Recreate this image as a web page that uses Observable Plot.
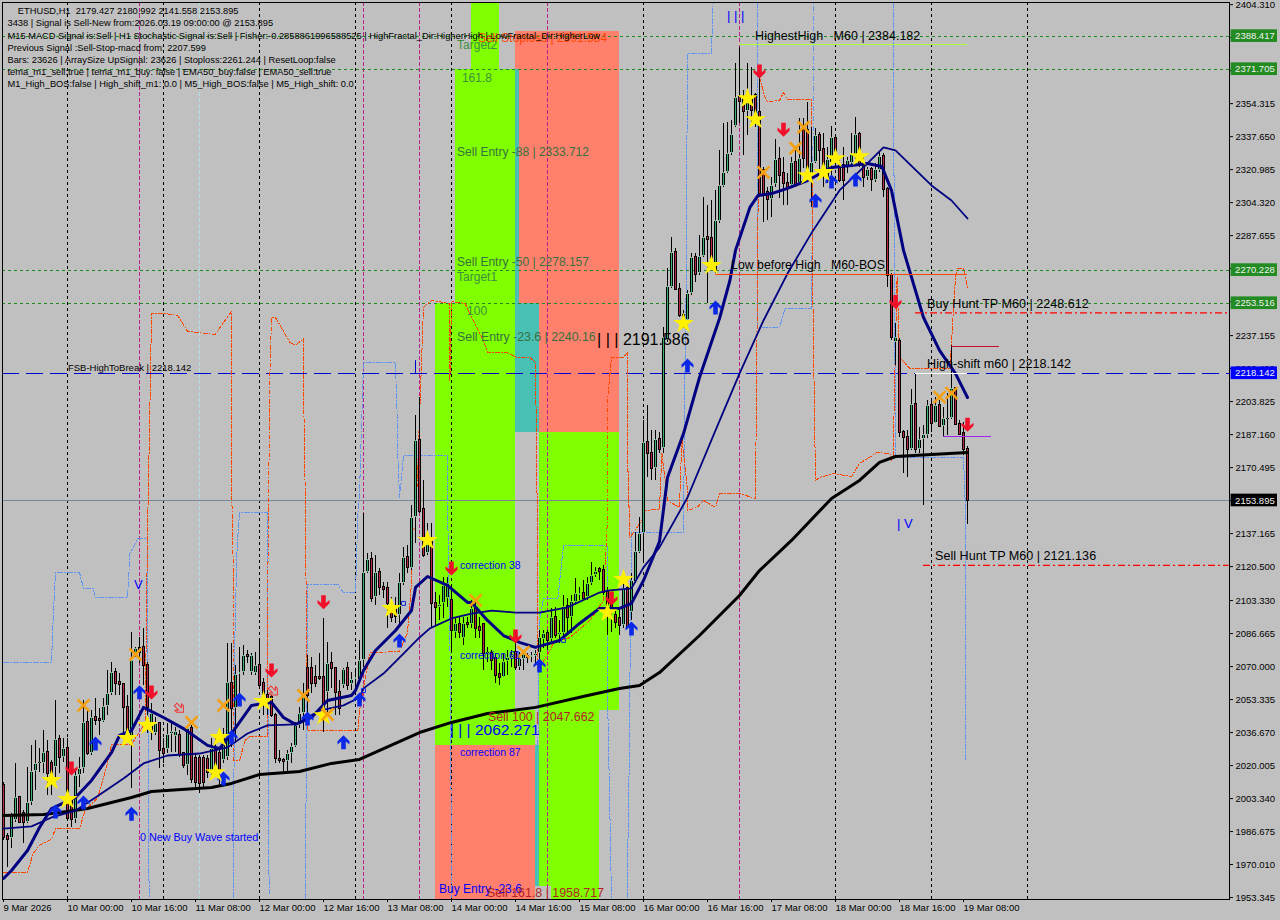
<!DOCTYPE html>
<html>
<head>
<meta charset="utf-8">
<script src="https://cdn.jsdelivr.net/npm/d3@7"></script>
<script src="https://cdn.jsdelivr.net/npm/@observablehq/plot@0.6"></script>
<style>
html,body{margin:0;padding:0;background:#c0c0c0;overflow:hidden}
svg{display:block}
</style>
</head>
<body>
<div id="chart"></div>
<script>
// candles: [open, high, low, close], one list per trading day
const mar09 = [[2010,2011.6,1982.2,1983.9],[1984.2,1985.6,1968.7,1982.9],[1983,1995.6,1978,1994.8],[1992.3,2020.9,1991.4,2003.7],[2003.7,2004,1990.9,1991.4],[1995.6,1997.3,1980.5,1991.4],[1991.4,2019.2,1990.6,2001.5],[2001.5,2030.2,1999.9,2017.2],[2017.2,2032.7,2007.4,2021.2],[2021.2,2028.5,2016.7,2021.6],[2021.2,2037.7,2015.9,2026.5],[2026.5,2032.7,2004.9,2015.9],[2020.9,2022.6,2004.9,2012.5],[2019.2,2052.9,2012.5,2033],[2033,2035.2,2015.9,2023.9],[2023.9,2033.5,2021.7,2028.5]];
const mar10 = [[2028.5,2033.5,1992.3,1993.1],[2002.4,2004,1988.9,1992.6],[1992.6,2017.5,1990.6,2015],[2015,2024.3,2009.1,2018.4],[2018.4,2052.9,2015.9,2041.6],[2041.6,2047.8,2025.1,2026],[2026,2047.8,2025.1,2044.5],[2044.5,2053.7,2040.3,2042.8],[2043.5,2048.7,2035.2,2042.8],[2042.5,2053.7,2041.9,2049.9],[2049.9,2068,2045.3,2056.3],[2056.3,2072.3,2055.4,2067.2],[2067.2,2068.9,2055.4,2061.6],[2062.2,2066.4,2055.4,2060.8],[2060.8,2061.3,2034.4,2049.2],[2049.2,2055.4,2032.7,2034.4],[2033.5,2087.4,2008.3,2073.1],[2075.6,2079.8,2074.8,2079],[2079,2084.9,2071.4,2077.3],[2079.8,2089.1,2060.5,2070.6],[2070.6,2072.3,2036,2049.5],[2036,2051.2,2032.7,2046.2],[2036,2044.5,2035.2,2041.1],[2041.1,2041.9,2018.4,2027.6]];
const mar11 = [[2028.1,2033.5,2020.9,2026.3],[2028.1,2041.1,2025.9,2035.7],[2035.7,2041.9,2026.8,2037.2],[2034.7,2039.4,2026.8,2037.2],[2035.2,2037.7,2024.3,2025.6],[2026,2026.8,2018.4,2020.1],[2020.1,2040.3,2015,2038.6],[2038.6,2040.3,2010.8,2013],[2023.4,2026,2009.1,2011.6],[2023.4,2025.1,2005.8,2011.1],[2023.4,2025.1,2009.1,2011.6],[2022.9,2025.1,2013.3,2016.7],[2016.7,2033.5,2013.3,2028.5],[2028.5,2033.5,2015.9,2019.2],[2026,2029.3,2009.9,2017.5],[2022.6,2038.6,2020.9,2034.4],[2024.3,2081.5,2022.6,2061.8],[2061.6,2081.5,2029.3,2048.7],[2048.7,2070.6,2031,2066],[2066,2079.8,2054.6,2067.2],[2067.2,2080.7,2065.5,2075.6],[2075.6,2078.1,2071.4,2075.1],[2067.2,2076.5,2065.5,2075.6],[2066.7,2077.3,2065.5,2070.6]];
const mar12 = [[2070.6,2084,2059.6,2060.5],[2061.3,2063.8,2045.3,2055.4],[2055.4,2058,2045.3,2052.9],[2054.6,2055.4,2044.5,2045.3],[2045.3,2046.2,2020.9,2023.4],[2023.3,2027.6,2020.9,2022.6],[2022.6,2023.4,2016.7,2021.9],[2021.9,2027.6,2016.7,2026],[2026,2031,2020.9,2029.7],[2029.7,2041.9,2029.3,2040.3],[2040.3,2049.5,2038.6,2046.5],[2046.2,2061.3,2037.7,2056.3],[2068.9,2075.6,2042.8,2055.4],[2068.9,2074.8,2056.3,2061.6],[2064.3,2070.6,2059.6,2061.6],[2064.3,2076.5,2063,2064],[2064.3,2094.1,2036.9,2046.2],[2057.1,2082.4,2045.3,2071.4],[2071.4,2077.3,2058.8,2068.9],[2068.9,2068.9,2045.3,2057.1],[2057.1,2063,2045.3,2048.7],[2060.5,2068.9,2058.8,2068.5],[2068.9,2072.3,2057.9,2060.5],[2061,2067.2,2057.9,2063.3]];
const mar13 = [[2063.3,2068.9,2058.8,2064.7],[2063,2083.2,2062.1,2073.1],[2073.1,2147.3,2069.7,2117.7],[2117.7,2127,2116.9,2123.9],[2123.9,2127.8,2102.6,2104.2],[2104.7,2126.1,2100.9,2117.4],[2117.7,2119.4,2105.9,2110.1],[2110.1,2112.7,2104.2,2108.9],[2109.3,2112.7,2089.1,2101.7],[2101.7,2105.1,2092.5,2095],[2100,2105.1,2091.6,2095.3],[2095.8,2116.9,2089.9,2112.7],[2111.8,2130.3,2111,2125.3],[2125.3,2131.2,2116.9,2119.9],[2119.4,2151.4,2118.5,2145.1],[2145.1,2196.8,2132,2184.2],[2184.2,2206.1,2147.2,2148.5],[2149.2,2164,2125.3,2126.1],[2127,2142.1,2126.1,2132.8],[2132.8,2142.1,2089.1,2101.7],[2102,2107.6,2090.8,2099.7],[2099.7,2105.9,2093.3,2101.4],[2101.7,2115.2,2094.1,2111],[2104.2,2115.2,2100,2111.8]];
const mar14 = [[2103.4,2107.6,2077.3,2088.2],[2087.4,2095,2084,2091.6],[2091.3,2095,2084,2087.4],[2084,2095,2080.7,2091.6],[2091.9,2095,2089.1,2091.3],[2091.3,2103.4,2089.1,2099.2],[2099.2,2102.5,2084,2089.1],[2089.9,2095,2084,2088.2],[2091.3,2091.6,2068,2076.4],[2076.4,2079.8,2072.2,2077.3],[2076.4,2078.1,2068,2073.1],[2073.9,2076.4,2061.3,2065.5],[2066,2071.4,2060.4,2064.7],[2064.7,2076.4,2064.3,2072.7],[2072.7,2078.1,2065.5,2074.8],[2073.9,2078.1,2069.7,2075.6],[2077.3,2081.5,2068,2069.7],[2069.7,2077.3,2068,2073.9],[2073.4,2078.1,2068,2076.1],[2075.1,2076.4,2071.4,2074.4],[2074.4,2077.3,2072.2,2075.6],[2075.1,2078.1,2070.6,2076.4],[2076.4,2088.2,2068,2084.9],[2083.5,2088.2,2079,2086.9]];
const mar15 = [[2086.9,2088.2,2078.1,2083.2],[2083.5,2099.2,2082.3,2095],[2095,2100,2084,2085.7],[2085.7,2093.3,2081.5,2087.4],[2086.6,2105.9,2084.9,2100.4],[2100.4,2104.2,2086.6,2095],[2095,2105.9,2086.6,2103],[2102.5,2114.3,2101.7,2106.7],[2105.9,2110.1,2103.4,2106.7],[2106.7,2113.5,2103.4,2104.2],[2104.7,2115.2,2103.4,2111.8],[2111.8,2122.7,2111,2116],[2116,2120.2,2115.2,2118.2],[2118.9,2120.2,2113.5,2118.2],[2118.5,2121,2105.9,2107.6],[2107.6,2110.1,2085.7,2100],[2102.5,2106.7,2087.4,2100],[2095.8,2100,2089.1,2092.4],[2094.1,2098.3,2085.7,2090.8],[2090.8,2113.5,2089.1,2109.3],[2109.3,2111.8,2089.1,2089.9],[2097.5,2116.9,2093.3,2113.5],[2112.6,2137.9,2111.8,2128.3],[2127.8,2145.5,2127,2137.1]];
const mar16 = [[2137,2194.3,2123.6,2183],[2183,2201.9,2165.7,2177.5],[2177.5,2189.2,2164,2169.9],[2169.9,2189.2,2164,2184.5],[2184.5,2188.4,2177.5,2179.5],[2180,2241.4,2177.5,2236.4],[2234.7,2270.9,2233.9,2262],[2261.6,2286.9,2260.8,2279],[2279,2281,2259.9,2260.3],[2260.3,2263.3,2246.4,2247.3],[2247.3,2249.8,2240.6,2244.8],[2244.8,2259.9,2243.9,2258.6],[2258.6,2278.5,2257.4,2276.4],[2276.4,2278.5,2264.1,2268],[2268.3,2287.7,2267.5,2277.3],[2277.3,2307.1,2276.8,2286.9],[2286.9,2302.9,2253.2,2285.9],[2286.2,2305.4,2273.4,2275.9],[2269.2,2310.4,2268.4,2295.3],[2294.9,2330.6,2293.6,2312.8],[2312.6,2344.1,2312.1,2319.7],[2319.7,2344.9,2318.9,2329],[2329,2345.8,2328.1,2338.6],[2342.8,2374.4,2342.4,2357.6]];
const mar17 = [[2357.6,2382.8,2344.1,2355.6],[2356.7,2360.9,2328.1,2350.5],[2350.5,2374.4,2338.2,2355.9],[2357.6,2372.7,2344.1,2350.8],[2358.4,2359.3,2342.4,2350],[2350,2371,2307.1,2308.8],[2320.5,2322.2,2294.4,2308.8],[2309.6,2312.1,2295.3,2305.7],[2305.7,2317.2,2297,2313],[2313.3,2336,2312.1,2325.9],[2325.9,2332.3,2306.2,2318],[2318.9,2327.3,2302.9,2313.8],[2313.8,2318.9,2302.9,2312.1],[2313,2327.3,2311.3,2324.7],[2324.7,2332.3,2312.1,2313],[2313.8,2346.6,2313,2326.4],[2340.7,2346.6,2321.4,2326.4],[2340.7,2355,2314.6,2318.9],[2318,2342.4,2302,2324.7],[2324.7,2341.6,2323.9,2338.2],[2338.2,2339.9,2320.5,2330.6],[2331,2339,2312.1,2322.2],[2316.3,2332.3,2313.8,2325.9],[2323.9,2342.8,2314.6,2337.4]];
const mar18 = [[2336.5,2336.5,2322.2,2327.3],[2323.1,2325.6,2314.6,2315.5],[2323.1,2332.3,2305.4,2315.5],[2322.2,2327.3,2318.9,2325.6],[2323.9,2339,2322.2,2328.6],[2327.3,2347.5,2325.6,2338.6],[2338.6,2339.9,2322.2,2323.9],[2323.9,2327.3,2312.1,2316.8],[2316.8,2322.2,2315.5,2321],[2321,2322.2,2310.1,2315.8],[2315.5,2323.9,2314.6,2321],[2320.5,2329.8,2319.7,2327.6],[2327.6,2329,2307.1,2311.1],[2311.1,2312.1,2261.6,2267.5],[2267.5,2268.4,2234.7,2236.1],[2233.9,2243.2,2222.1,2236.1],[2234.4,2235.6,2185.9,2188.4],[2188.4,2189.3,2167.4,2185.9],[2185.9,2189.3,2165.7,2179.5],[2179.5,2209.8,2179.2,2202.4],[2202.4,2217.9,2177.5,2179.5],[2179.7,2191,2177.5,2184.6],[2184.6,2191.8,2151.4,2187.3],[2186.8,2204.4,2185.1,2201.9]];
const mar19 = [[2201.9,2204.4,2188,2193],[2193,2206.1,2192.7,2201.9],[2201.9,2204.4,2191,2191.5],[2191.5,2201.1,2186.3,2195.2],[2195,2207.8,2186.8,2195.4],[2195.2,2232.2,2194.7,2210.3],[2210.3,2211.2,2191.8,2192.2],[2192.2,2194.3,2186.8,2187.3],[2187.6,2193.5,2176.7,2179.5],[2179.427,2180.992,2141.558,2153.895]];

// moving averages: [bar, price]
const emaBlack = [[0,1994.8],[10,1995.3],[16,1996.8],[21,1998.3],[32,2003.9],[37,2006.9],[52,2008.9],[57,2011],[64,2015.5],[74,2017],[82,2021.1],[89,2023.1],[104,2036.7],[112,2041.8],[121,2046.3],[133,2049.4],[146,2055.4],[154,2058.9],[159,2060.5],[164,2067],[174,2085.7],[184,2105.9],[189,2118.5],[197,2133.7],[207,2154.9],[214,2164],[219,2173.1],[223,2176.1],[241,2178.1]];
const emaFast = [[0,1963],[2,1967],[6,1977.1],[9,1988.7],[12,1998.3],[18,2003.9],[22,2012.5],[27,2026.6],[29,2035.2],[32,2037.7],[35,2049.4],[40,2044.3],[45,2038.7],[51,2030.2],[54,2028.6],[57,2036.2],[62,2050.4],[67,2051.9],[70,2044.3],[73,2040.8],[77,2044.3],[81,2052.9],[87,2055.4],[88,2057.9],[90,2068],[93,2078.1],[98,2088.2],[102,2098.3],[103,2110],[106,2115.5],[111,2111],[116,2102.4],[117,2102.4],[121,2093.3],[125,2085.7],[129,2082.2],[133,2079.7],[139,2083.2],[144,2091.8],[149,2099.4],[154,2099.4],[157,2101.9],[160,2113.5],[164,2133.2],[166,2165.5],[170,2187.7],[174,2216],[179,2245.8],[181.6,2265],[183,2280.2],[186.6,2301.9],[188.6,2307.9],[192,2308.9],[196,2311.5],[201,2315.5],[207,2322.1],[212,2323.1],[216,2324.1],[219.6,2322.6],[222,2310.5],[225,2280.2],[230,2246.3],[234,2229.7],[238,2218],[241,2205.9]];
const emaMid = [[0,1988.2],[7,1989.3],[12,1993.8],[18,1997.3],[23,2003.9],[30,2013.5],[35,2021.1],[41,2025.1],[49,2026.1],[56,2029.2],[61,2036.2],[66,2040.3],[73,2040.8],[79,2047.8],[85,2050.4],[89,2054.4],[90,2059],[95,2066.5],[100,2076.6],[104,2084.7],[106.6,2089.3],[112,2094.3],[117,2096.8],[122,2098.3],[128,2097.3],[134,2097.3],[141,2099.9],[149,2107.4],[151,2108.4],[157,2109.5],[160,2120.1],[164,2130.2],[171,2155.4],[178,2189.3],[184,2218],[190,2244.8],[196,2268.5],[202.4,2290.3],[209,2310.5],[216,2324.1],[220,2332.2],[223,2330.7],[232,2313],[237,2305.4],[241,2296.3]];

// thin dashed envelope lines: [bar, price]
const orangeBand = [[0,1966],[6,1966],[7.4,1975.6],[9,1979.7],[12,1982.7],[13,1988.2],[19,1988.2],[20.4,1997.3],[23.6,2003.9],[26,2021.1],[27,2030.7],[32,2030.7],[35.4,2041.3],[36,2137.2],[36.6,2200.9],[37,2248.3],[40.4,2248.3],[43.6,2247.3],[46,2239.3],[52.9,2237.7],[57,2249.4],[57,2164],[57.6,2103.4],[57.6,2022.6],[59,2022.6],[60.4,2032.7],[61.6,2034.7],[66,2034.7],[66,2096.8],[66.6,2218],[67,2246.3],[68,2246.3],[71.6,2233.7],[73,2232.2],[75,2235.7],[75,2211],[75.4,2160.5],[76,2037.7],[88.6,2037.7],[89,2047.8],[91.6,2077.1],[99,2077.6],[101,2087.2],[102,2112],[102,2138.7],[103,2139.8],[105,2251.4],[107,2254.9],[111.6,2253.4],[111.6,2214.5],[112,2254.4],[115.4,2253.4],[117.4,2244.8],[120,2234.7],[121,2228.6],[126,2228.6],[128.4,2226.1],[131.6,2226.1],[133,2223.6],[133.4,2153.9],[133.6,2068],[136.6,2078.1],[137.4,2081.7],[141.6,2084.7],[146.6,2093.3],[150,2103.4],[151,2145.3],[151,2204.4],[152,2226.1],[155,2226.1],[156,2228.6],[156,2177.6],[156.6,2135.2],[159.6,2143.8],[160,2148.8],[164,2149.4],[164.6,2177.6],[166,2153.9],[169,2150.4],[169.6,2185.7],[171,2159],[171,2148.8],[173.4,2150.4],[175,2153.9],[178,2150.4],[179,2157.4],[184,2157.4],[188,2154.9],[188.4,2244.8],[188.6,2293.8],[189,2367.5],[190.4,2357.4],[191,2355.4],[194,2355.9],[195,2359.9],[196,2356.4],[202,2356.4],[202.4,2244.8],[203,2164],[204,2165.5],[207.4,2167.5],[212,2166],[214,2172.6],[218.4,2178.1],[221.6,2177.6],[222,2174.1],[222.4,2175.6],[223,2233.2],[223.4,2266.5],[224,2226.1],[226.6,2220.6],[236.6,2220.6],[238,2266.5],[238.4,2271.1],[240,2271.1],[241,2261.5]];
const blueBand = [[0,2072.1],[12,2072.1],[12.4,2093.3],[13,2117.5],[19,2117.5],[20,2109.5],[22.4,2109.5],[23,2104.9],[31,2104.9],[31.6,2127.1],[33.6,2134.7],[36,2134.7],[36,2093.3],[36.4,1953.4],[36.5,null],[57.4,1953.4],[57.6,2011],[57.9,2093.3],[58.4,2130.2],[59,2147.8],[66,2147.8],[66,2093.3],[66.4,1955.4],[66.5,null],[75.4,1952.9],[75.6,1993.8],[76,2093.3],[76,2111.5],[83.6,2111.5],[85,2107.4],[88,2107.4],[88.6,2147.3],[89,2157.4],[89.6,2197.8],[90,2223.6],[98,2223.6],[98.4,2197.8],[98.6,2175.6],[99,2155.4],[100,2176.6],[111,2176.6],[111,2153.9],[111.6,2084.7],[112,1974.6],[112,1953.4],[113,null],[133.6,2030.2],[134,2093.3],[135,2104.4],[138.6,2104.4],[140,2131.2],[151,2131.2],[151,2056.4],[151.6,1995.8],[152,1953.4],[153,null],[155.9,1953.4],[156.4,2017.5],[156.6,2063],[157,2137.7],[170,2137.7],[170.4,2224.6],[170.6,2246.3],[171,2379.7],[177,2379.7],[177.4,2405.4],[178,null],[188.4,2405.4],[188.6,2241.3],[194,2241.3],[195.4,2250.9],[202,2250.9],[202.4,2339.3],[202.4,2405.4],[203,null],[222.4,2405.4],[223,2175.6],[240,2175.6],[240.4,2153.9],[240.6,2022.6]];

// signal markers: [bar, price]
const stars = [[12,2012.5],[16,2002.9],[31,2033.7],[36,2040.3],[54,2034.2],[53,2016.5],[65,2052.4],[80,2045.3],[97,2099.4],[106,2133.7],[151,2097.3],[155,2114],[170,2243.3],[177,2272.6],[186,2356.9],[188,2346.3],[201,2318],[205,2319.6],[208,2326.6],[214,2327.6]];
const crosses = [[20,2050.4],[33,2076.1],[47,2041.8],[55,2050.4],[75,2055.4],[81,2045.8],[118,2103.4],[130,2077.3],[190,2319.6],[198,2331.8],[200,2342.4],[234,2206.1],[237,2208.1]];
const upArrows = [[20,2001.4],[13,1996.8],[32,1995.7],[23,2031.2],[34,2057.1],[59,2053.4],[57,2034.4],[55,2013.5],[76,2043.8],[85,2031.8],[89,2053.4],[99,2083.2],[134,2070.6],[157,2089.3],[171,2222.1],[178,2251.4],[203,2305.4],[207,2315],[213,2316]];
const downArrows = [[17,2018.5],[37,2056.9],[67,2068],[80,2102.5],[112,2119.6],[128,2085.2],[152,2104.4],[189,2370.6],[195,2341.1],[223,2254.1],[241,2192.1]];
const hollowArrows = [[44,2048.9],[67.5,2057.6]];
const hollowBoxes = [[100,2101.9],[90,2057.9],[140,2083.2]];

// price levels
const greenLevels = [2388.417,2371.705,2270.228,2253.516];
const fsbLevel = 2218.142;
const lastPrice = 2153.895;
const rightLabels = [[2388.417,"#228b22"],[2371.705,"#228b22"],[2270.228,"#228b22"],[2253.516,"#228b22"],[2218.142,"#0000ff"],[2153.895,"#000000"]];
const priceTicks = [2404.31,2387.645,2370.98,2354.315,2337.65,2320.985,2304.32,2287.655,2270.99,2254.325,2237.155,2220.49,2203.825,2187.16,2170.495,2153.83,2137.165,2120.5,2103.33,2086.665,2070,2053.335,2036.67,2020.005,2003.34,1986.675,1970.01,1953.345];

// time axis
const tickBars = [0,16,32,48,64,80,96,112,128,144,160,176,192,208,224,240];
const tickLabels = ["9 Mar 2026","10 Mar 00:00","10 Mar 16:00","11 Mar 08:00","12 Mar 00:00","12 Mar 16:00","13 Mar 08:00","14 Mar 00:00","14 Mar 16:00","15 Mar 08:00","16 Mar 00:00","16 Mar 16:00","17 Mar 08:00","18 Mar 00:00","18 Mar 16:00","19 Mar 08:00"];
const dayBars = [16,40,64,88,112,136,160,184,208,232,256];
const magentaBars = [34,90,104,136,184];
const paleBars = [49];

// zones: [bar1, bar2, price1, price2]
const limeZones = [[116.9,123.9,2371.705,2405.4],[112.9,127.9,2253.516,2371.705],[107.9,127.9,2047.662,2253.516],[107.9,132.9,2030.2,2047.662],[133.9,153.9,2047.662,2188.2],[133.9,148.9,1958.717,2047.662],[136.9,148.9,1952.37,1958.717]];
const salmonZones = [[127.9,153.9,2371.705,2390.6],[128.9,153.9,2253.516,2371.705],[133.9,153.9,2188.2,2253.516],[107.9,132.9,1952.37,2030.2]];
const tealZones = [[127.9,128.9,2253.516,2371.705],[127.9,133.9,2188.2,2253.516],[132.9,133.9,1958.717,2030.2]];

// short horizontal segments: [bar1, bar2, price, colour, width, dash]
const segments = [[184,241,2384.182,"#adff2f",1,null],[178,241,2268,"#ff4500",1.5,null],[228,306.4,2248.612,"#ff0000",1.2,"7,3,2,3"],[230,306.4,2121.136,"#ff0000",1.2,"7,3,2,3"],[228,241,2218.142,"#ffffff",1.5,null],[237,248.9,2231.8,"#c8102e",1,null],[235,247,2186.2,"#a020f0",1,null]];

// chart labels: [bar, price, text, colour, size]
const labelRows = [
[113.4,2383.7,"Target2","#3f8f3f",12],
[118.6,2387.2,"Sell Stoploss | 2391.584","#ff4500",12],
[114.6,2367,"161.8","#3f8f3f",12],
[113.4,2329.7,"Sell Entry -88 | 2333.712","#3a7040",12],
[113.4,2274.1,"Sell Entry -50 | 2278.157","#3a7040",12],
[113.4,2266.5,"Target1","#3f8f3f",12],
[115.9,2249.4,"100","#3f8f3f",12],
[113.4,2236.2,"Sell Entry -23.6 | 2240.16","#3a7040",12.3],
[148.4,2235.2,"| | | 2191.586","#000000",16],
[187.9,2388.7,"HighestHigh\u00a0\u00a0\u00a0M60 | 2384.182","#000000",12.5],
[181.9,2272.6,"Low before High\u00a0\u00a0\u00a0M60-BOS","#000000",12.3],
[230.9,2252.9,"Buy Hunt TP M60 | 2248.612","#000000",12.6],
[230.9,2222.6,"High-shift m60 | 2218.142","#000000",12.6],
[232.9,2126.1,"Sell Hunt TP M60 | 2121.136","#000000",12.6],
[223.4,2142.3,"| V","#0000ff",13],
[32.6,2111.5,"V","#0000ff",13],
[180.9,2398.8,"| | |","#0000ff",13],
[16.1,2220.6,"FSB-HighToBreak | 2218.142","#000000",9.5],
[114.1,2121.1,"correction 38","#0000ff",10.5],
[114.1,2075.6,"correction 61","#0000ff",10.5],
[114.1,2026.6,"correction 87","#0000ff",10.5],
[34.1,1983.7,"0 New Buy Wave started","#0000ff",10.8],
[121.1,2044.3,"Sell 100 | 2047.662","#b22222",12.4],
[111.6,2038.2,"| | | 2062.271","#0000ff",15.5],
[108.9,1957.4,"Buy Entry -23.6","#0000ff",12],
[120.9,1955.4,"Sell 161.8 | 1958.717","#b22222",12.4]
];

const infoLines = [
"\u00a0\u00a0\u00a0\u00a0ETHUSD,H1  2179.427 2180.992 2141.558 2153.895",
"3438 | Signal is Sell-New from:2026.03.19 09:00:00 @ 2153.895",
"M15 MACD Signal is:Sell | H1 Stochastic Signal is:Sell | Fisher:-0.2858861996588525 | HighFractal_Dir:HigherHigh | LowFractal_Dir:HigherLow",
"Previous Signal :Sell-Stop-macd from: 2207.599",
"Bars: 23626 | ArraySize UpSignal: 23626 | Stoploss:2261.244 | ResetLoop:false",
"tema_m1_sell:true | tema_m1_buy: false | EMA50_buy:false | EMA50_sell:true",
"M1_High_BOS:false | High_shift_m1: 0.0 | M5_High_BOS:false | M5_High_shift: 0.0"
];

const FONT = '"Liberation Sans", Arial, sans-serif';
const candles = [...mar09,...mar10,...mar11,...mar12,...mar13,...mar14,...mar15,...mar16,...mar17,...mar18,...mar19]
  .map(([open,high,low,close],bar)=>({bar,open,high,low,close}));

const arrowUp = {draw(c,size){const s=Math.sqrt(size/Math.PI)/7;
  const p=[[0,-7],[6,-1],[6,2.2],[2.3,-0.8],[2.3,7],[-2.3,7],[-2.3,-0.8],[-6,2.2],[-6,-1]];
  p.forEach(([x,y],i)=>i?c.lineTo(x*s,y*s):c.moveTo(x*s,y*s));c.closePath();}};
const arrowDown = {draw(c,size){const s=Math.sqrt(size/Math.PI)/7;
  const p=[[0,7],[6,1],[6,-2.2],[2.3,0.8],[2.3,-7],[-2.3,-7],[-2.3,0.8],[-6,-2.2],[-6,1]];
  p.forEach(([x,y],i)=>i?c.lineTo(x*s,y*s):c.moveTo(x*s,y*s));c.closePath();}};

const zoneRect = (rows,fill)=>Plot.rect(rows,{x1:d=>d[0],x2:d=>d[1],y1:d=>d[2],y2:d=>d[3],fill,shapeRendering:"crispEdges"});
const vGrid = (bars,stroke,dash,w=1)=>Plot.ruleX(bars,{x:d=>d,stroke,strokeDasharray:dash,strokeWidth:w,shapeRendering:"crispEdges"});
const pathLine = (rows,stroke,w,dash)=>Plot.line(rows,{x:d=>d[0],y:d=>d[1],stroke,strokeWidth:w,strokeDasharray:dash,curve:"linear",clip:"frame",strokeLinejoin:"round",shapeRendering:"crispEdges"});
const isUp = d=>d.close>=d.open;

const chart = Plot.plot({
  width:1280,height:920,
  marginLeft:2,marginRight:51,marginTop:2,marginBottom:21,
  style:{background:"#c0c0c0",color:"#000",fontFamily:FONT,overflow:"visible"},
  x:{domain:[-0.25,306.5]},
  y:{domain:[1952.37,2405.4]},
  marks:[
    zoneRect(limeZones,"#7fff00"),
    zoneRect(salmonZones,"#ff806c"),
    zoneRect(tealZones,"#48c0b4"),
    vGrid(dayBars,"#000","3,3"),
    vGrid(magentaBars,"#b8228a","4,2",1),
    vGrid(paleBars,"#b0e0e6","4,2",1),
    Plot.ruleY(greenLevels,{y:d=>d,stroke:"#1f8a1f",strokeDasharray:"3,3",shapeRendering:"crispEdges"}),
    Plot.ruleY([lastPrice],{y:d=>d,stroke:"#778899",shapeRendering:"crispEdges"}),
    Plot.ruleY([fsbLevel],{y:d=>d,stroke:"#0000cd",strokeDasharray:"17,7",shapeRendering:"crispEdges"}),
    pathLine(blueBand,"#6495ed",1,"5,2,1,2"),
    pathLine(orangeBand,"#ff4500",1,"4,2,1,2"),
    Plot.ruleX([103],{x:d=>d,y1:fsbLevel,y2:2224.5,stroke:"#0000cd"}),
    Plot.ruleX([237],{x:d=>d,y1:2231.8,y2:2224,stroke:"#c8102e"}),
    Plot.ruleX(candles,{x:"bar",y1:"high",y2:"low",stroke:"#000",strokeWidth:1,shapeRendering:"crispEdges"}),
    Plot.ruleX(candles,{x:"bar",y1:"open",y2:"close",stroke:"#000",strokeWidth:3,insetTop:-1,insetBottom:-1,shapeRendering:"crispEdges"}),
    Plot.ruleX(candles,{x:"bar",y1:"open",y2:"close",stroke:d=>isUp(d)?"#3cb371":"#b8283f",strokeWidth:1,shapeRendering:"crispEdges"}),
    Plot.line(emaBlack,{x:d=>d[0],y:d=>d[1],stroke:"#000",strokeWidth:3}),
    Plot.line(emaMid,{x:d=>d[0],y:d=>d[1],stroke:"#000080",strokeWidth:1.8}),
    Plot.line(emaFast,{x:d=>d[0],y:d=>d[1],stroke:"#000080",strokeWidth:3}),
    ...segments.map(d=>Plot.ruleY([d],{x1:d[0],x2:d[1],y:d[2],stroke:d[3],strokeWidth:d[4],strokeDasharray:d[5],shapeRendering:d[5]?"auto":"crispEdges"})),
    Plot.dot(hollowBoxes,{x:d=>d[0],y:d=>d[1],symbol:"square2",r:2.5,stroke:"#0a28e6",strokeWidth:1,fill:"none"}),
    Plot.dot(upArrows,{x:d=>d[0],y:d=>d[1],symbol:arrowUp,r:7,fill:"#0a28e6",stroke:"none"}),
    Plot.dot(downArrows,{x:d=>d[0],y:d=>d[1],symbol:arrowDown,r:7,fill:"#f0102a",stroke:"none"}),
    Plot.dot(hollowArrows,{x:d=>d[0],y:d=>d[1],symbol:arrowDown,r:5.5,fill:"none",stroke:"#f03030",strokeWidth:1,rotate:-45}),
    Plot.dot(stars,{x:d=>d[0],y:d=>d[1],symbol:"star",r:6.5,fill:"#fff000",stroke:"none"}),
    Plot.dot(crosses,{x:d=>d[0],y:d=>d[1],symbol:"times",r:5.5,stroke:"#f5a010",strokeWidth:2.6}),
    Plot.text(labelRows,{x:d=>d[0],y:d=>d[1],text:d=>d[2],fill:d=>d[3],fontSize:d=>d[4],textAnchor:"start",lineAnchor:"middle",fontFamily:FONT}),
    Plot.text([infoLines.join("\n")],{frameAnchor:"top-left",dx:5,dy:3,lineHeight:1.31,fontSize:9.3,lineAnchor:"top",textAnchor:"start",fill:"#000",fontFamily:FONT}),
    Plot.frame({stroke:"#000",strokeWidth:1}),
    Plot.axisX({anchor:"bottom",ticks:tickBars,tickSize:3,tickPadding:2,tickFormat:(d,i)=>tickLabels[i],textAnchor:"start",fontSize:9.5,fontFamily:FONT,fill:"#000",stroke:"#000",strokeOpacity:1,fillOpacity:1,label:null}),
    Plot.axisY({anchor:"right",ticks:priceTicks,tickSize:3,tickPadding:3,tickFormat:d=>d.toFixed(3),fontSize:9.5,fontFamily:FONT,fill:"#000",stroke:"#000",strokeOpacity:1,fillOpacity:1,label:null}),
    Plot.rect(rightLabels,{x1:306.9,x2:318.5,y1:d=>d[0]-3.2,y2:d=>d[0]+3.2,fill:d=>d[1]}),
    Plot.text(rightLabels,{x:307.9,y:d=>d[0],text:d=>d[0].toFixed(3),fill:"#f0f0f0",fontSize:9.5,textAnchor:"start",lineAnchor:"middle",fontFamily:FONT})
  ]
});
document.getElementById("chart").appendChild(chart);
</script>
</body>
</html>
